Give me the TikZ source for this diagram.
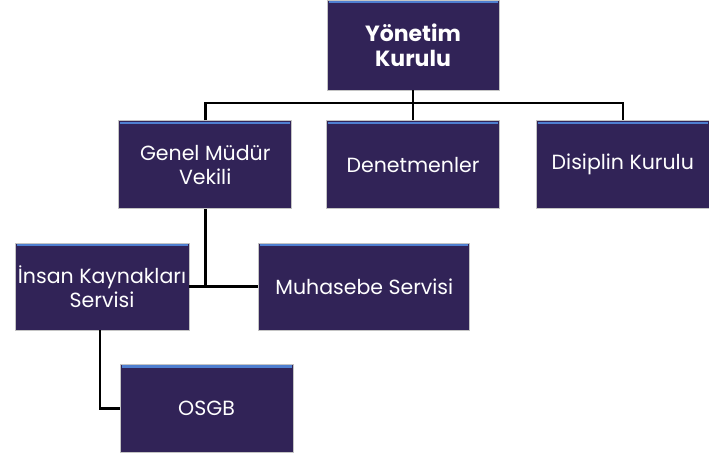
\documentclass[tikz,border=0pt]{standalone}
\usepackage{fontspec}
\setmainfont{Poppins}
\usetikzlibrary{positioning}
\definecolor{boxfill}{HTML}{312357}
\definecolor{boxedge}{HTML}{C4C4C4}
\definecolor{topline}{HTML}{4F7FD0}
\begin{document}
\begin{tikzpicture}[x=1pt,y=-1pt,
		unit/.style={draw=boxedge,fill=boxfill,line width=.8pt,text=white,align=center,font=\fontsize{20.5}{24}\selectfont,minimum width=173pt,minimum height=88pt,inner sep=1pt,
			path picture={\draw[topline,line width=2.4pt] ([xshift=1.5pt,yshift=-2pt]path picture bounding box.north west) -- ([xshift=-1.5pt,yshift=-2pt]path picture bounding box.north east);}},
		link/.style={draw=black,line width=2.6pt}]
		\useasboundingbox (0,0) rectangle (709,455);
		\node (yk) [unit,minimum width=172pt,minimum height=90pt,font=\fontsize{22}{25}\selectfont\bfseries] at (413,45) {Yönetim\\Kurulu};
		\node (den) [unit,below=30pt of yk] {Denetmenler};
		\node (gmv) [unit,left=34pt of den] {Genel Müdür\\Vekili};
		\node (dis) [unit,right=36pt of den] {Disiplin Kurulu};
		\node (ik) [unit,minimum width=174pt,minimum height=87pt] at (102,286.5) {İnsan Kaynakları\\Servisi};
		\node (muh) [unit,minimum width=211pt,minimum height=87pt,right=69pt of ik] {Muhasebe Servisi};
		\node (osgb) [unit] at (206.5,408.5) {OSGB};
		\coordinate (bus) at (413,103);
		\draw [link] (yk.south) -- (yk.south |- den.north);
		\draw [link] (gmv.north) |- (bus) -| (dis.north);
		\draw [link] (gmv.south) -- (gmv.south |- ik.east);
		\draw [link] (ik.east) -- (muh.west);
		\draw [link] ([xshift=-2pt]ik.south) |- (osgb.west);
	\end{tikzpicture}
\end{document}
